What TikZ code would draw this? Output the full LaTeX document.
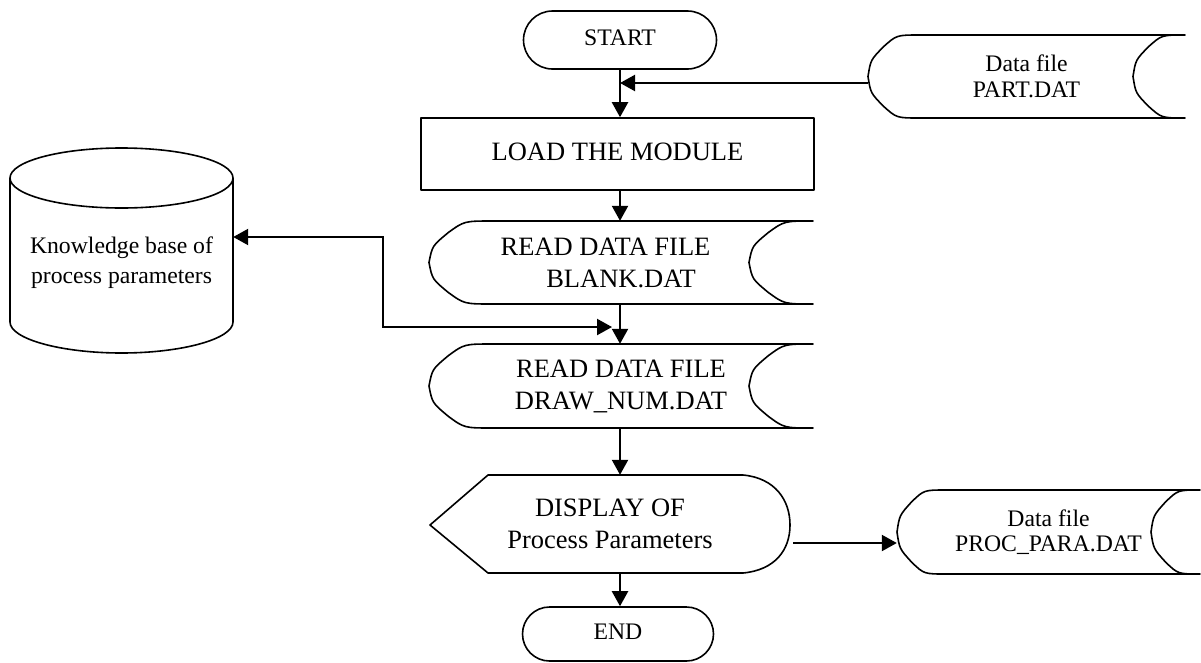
\documentclass[tikz,border=0pt]{standalone}
\usepackage{fontspec}
\setmainfont{Liberation Serif}
\usetikzlibrary{arrows.meta,shapes.misc}
% stored-data outline: L T R B depth
\newcommand\sdshape[5]{%
 \draw[shapeline] ({#1+#5},#2) -- (#3,#2)
  .. controls ({#3-0.45*#5},#2) .. ({#3-0.7*#5},{#2+0.14*(#4-#2)})
  .. controls ({#3-0.95*#5},{#2+0.3*(#4-#2)}) .. ({#3-#5},{0.5*(#2+#4)})
  .. controls ({#3-0.95*#5},{#4-0.3*(#4-#2)}) .. ({#3-0.7*#5},{#4-0.14*(#4-#2)})
  .. controls ({#3-0.45*#5},#4) .. (#3,#4)
  -- ({#1+#5},#4)
  .. controls ({#1+0.55*#5},#4) .. ({#1+0.3*#5},{#4-0.14*(#4-#2)})
  .. controls ({#1+0.05*#5},{#4-0.3*(#4-#2)}) .. (#1,{0.5*(#2+#4)})
  .. controls ({#1+0.05*#5},{#2+0.3*(#4-#2)}) .. ({#1+0.3*#5},{#2+0.14*(#4-#2)})
  .. controls ({#1+0.55*#5},#2) .. ({#1+#5},#2);}
\begin{document}
\begin{tikzpicture}[x=1pt,y=-1pt,
  shapeline/.style={line width=1.6pt, line join=round},
  conn/.style={line width=2.2pt},
  arr/.style={conn,-{Triangle[length=15pt,width=16pt]}},
  bigtxt/.style={font=\fontsize{26.5}{32}\selectfont, align=center, inner sep=0pt},
  smalltxt/.style={font=\fontsize{23.7}{25.5}\selectfont, align=center, inner sep=0pt},
  kbtxt/.style={font=\fontsize{23.7}{30}\selectfont, align=center, inner sep=0pt},
  termbox/.style={rounded rectangle, draw, shapeline, smalltxt}]
\useasboundingbox (0,0) rectangle (1201,662);

% nodes
\node[termbox, minimum width=193pt, minimum height=58pt] (start) at (620,40) {\raisebox{5pt}{START}};
\node[draw, shapeline, bigtxt, minimum width=393pt, minimum height=72pt] (load) at (617.5,154) {\raisebox{4pt}{LOAD THE MODULE}};
\node[bigtxt, minimum width=384pt, minimum height=83pt] (read1) at (621,262.5) {READ DATA FILE\hspace*{31pt}\\BLANK.DAT};
\sdshape{429}{221}{813}{304}{64}
\node[bigtxt, minimum width=384pt, minimum height=84pt] (read2) at (621,386) {READ DATA FILE\\DRAW\_NUM.DAT};
\sdshape{429}{344}{813}{428}{64}
\node[bigtxt, minimum width=360pt, minimum height=98pt] (display) at (610,524) {DISPLAY OF\\Process Parameters};
\draw[shapeline] (430,525) -- (488,475) -- (743,475)
  .. controls (775,478) and (790,500) .. (790,525)
  .. controls (790,550) and (775,570) .. (743,573) -- (488,573) -- cycle;
\node[termbox, minimum width=191pt, minimum height=54pt] (end) at (618,634) {\raisebox{4pt}{END}};
\node[smalltxt, minimum width=317pt, minimum height=83pt] (part) at (1026.5,76.5) {Data file\\PART.DAT};
\sdshape{868}{35}{1185}{118}{52}
\node[smalltxt, minimum width=303pt, minimum height=84pt] (proc) at (1048.5,532) {Data file\\PROC\_PARA.DAT};
\sdshape{897}{490}{1200}{574}{49}
\node[kbtxt, minimum width=223pt, minimum height=180pt] (kb) at (121.5,263) {Knowledge base of\\process parameters};
% cylinder outline
\draw[shapeline] (121.5,178) ellipse [x radius=111.5, y radius=30];
\draw[shapeline] (10,178) -- (10,322)
  .. controls (10,339.1) and (61.5,353) .. (121.5,353)
  .. controls (181.5,353) and (233,339.1) .. (233,322) -- (233,178);

% connectors
\coordinate (pj) at (620,83);
\draw[arr] (start.south -| pj) -- (pj |- load.north);
\draw[arr] (part.west |- pj) -- (pj);
\draw[arr] (load.south -| pj) -- (pj |- read1.north);
\draw[arr] (read1.south -| pj) -- (pj |- read2.north);
\draw[arr] (read2.south -| pj) -- (pj |- display.north);
\draw[arr] (display.south -| pj) -- (pj |- end.north);
\coordinate (kbc) at (383,237);
\coordinate (kj) at (612,327);
\draw[conn,{Triangle[length=15pt,width=16pt]}-{Triangle[length=15pt,width=16pt]}] (kb.east |- kbc) -- (kbc) -- (kbc |- kj) -- (kj);
\coordinate (pa) at (793,543);
\draw[arr] (pa) -- (proc.west |- pa);
\end{tikzpicture}
\end{document}
